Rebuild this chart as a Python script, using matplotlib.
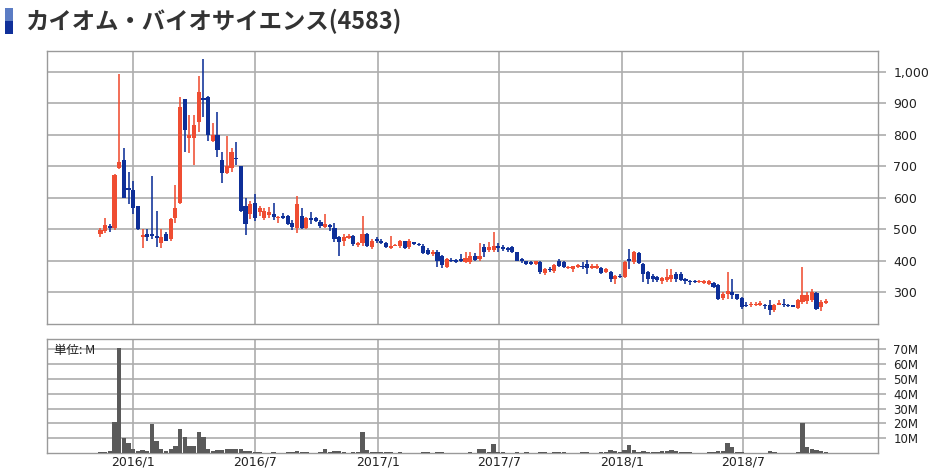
import matplotlib
matplotlib.use("Agg")
import matplotlib.pyplot as plt
import matplotlib.dates as mdates
from matplotlib.patches import Rectangle
import pandas as pd
import numpy as np

title = "カイオム・バイオサイエンス(4583)"
first_week = "2015-11-13"

opens = [485, 495, 510, 505, 695, 721, 630, 623, 573, 476, 486, 486, 479, 455, 484, 468, 535, 584, 913, 790,
         790, 842, 918, 921, 782, 800, 721, 680, 695, 726, 700, 575, 548, 582, 556, 535, 546, 549, 535, 542,
         542, 518, 505, 542, 502, 537, 535, 524, 507, 512, 505, 474, 463, 472, 479, 451, 455, 486, 444, 467,
         463, 455, 441, 447, 447, 461, 442, 458, 453, 447, 435, 421, 426, 416, 380, 403, 401, 405, 396, 396,
         416, 405, 442, 432, 432, 445, 442, 439, 442, 426, 405, 397, 395, 390, 395, 360, 374, 366, 397, 395,
         375, 372, 379, 384, 389, 376, 376, 376, 364, 365, 342, 352, 348, 405, 395, 424, 389, 363, 350, 347,
         334, 337, 342, 358, 358, 342, 335, 335, 331, 330, 325, 329, 323, 280, 295, 300, 292, 281, 260, 257,
         258, 260, 260, 258, 242, 260, 263, 260, 258, 249, 268, 270, 274, 298, 253, 266]
highs = [505, 537, 515, 676, 995, 758, 682, 652, 575, 500, 500, 668, 558, 500, 490, 537, 642, 921, 915, 863,
         863, 986, 1040, 925, 837, 872, 745, 795, 758, 777, 702, 598, 590, 611, 574, 568, 570, 584, 542, 550,
         545, 528, 605, 568, 540, 553, 540, 528, 549, 516, 518, 479, 484, 484, 482, 458, 542, 487, 468, 476,
         468, 460, 479, 453, 465, 463, 468, 460, 456, 453, 440, 432, 432, 418, 408, 407, 405, 421, 426, 426,
         424, 456, 453, 458, 491, 456, 450, 442, 447, 428, 409, 400, 398, 400, 400, 375, 379, 390, 405, 400,
         384, 384, 390, 395, 403, 389, 390, 379, 376, 368, 355, 356, 400, 437, 430, 426, 393, 368, 358, 350,
         347, 372, 374, 363, 363, 345, 337, 337, 337, 337, 337, 332, 326, 300, 363, 342, 295, 284, 268, 268,
         268, 270, 263, 274, 263, 274, 279, 263, 260, 279, 379, 300, 310, 300, 274, 279]
lows = [476, 489, 490, 497, 690, 598, 579, 549, 498, 440, 463, 470, 444, 441, 461, 463, 521, 579, 747, 742,
        705, 810, 858, 779, 777, 731, 647, 674, 682, 705, 556, 480, 532, 526, 542, 528, 537, 528, 521, 532,
        514, 497, 489, 500, 500, 516, 522, 505, 505, 495, 458, 416, 447, 468, 447, 442, 447, 442, 437, 455,
        452, 440, 437, 445, 440, 437, 437, 451, 445, 421, 418, 414, 380, 376, 377, 395, 393, 395, 393, 390,
        397, 400, 410, 426, 426, 428, 429, 428, 423, 397, 393, 385, 387, 385, 358, 355, 363, 361, 379, 376,
        372, 365, 376, 374, 358, 372, 372, 358, 360, 332, 326, 345, 345, 374, 390, 390, 332, 326, 332, 332,
        326, 332, 332, 332, 334, 326, 323, 328, 328, 325, 323, 313, 274, 274, 279, 279, 274, 245, 252, 253,
        255, 255, 247, 228, 237, 258, 253, 253, 251, 245, 263, 263, 268, 242, 239, 263]
closes = [497, 513, 503, 673, 714, 600, 626, 566, 500, 481, 476, 478, 471, 475, 463, 531, 568, 889, 816, 800,
          832, 937, 912, 800, 800, 752, 679, 700, 747, 722, 558, 515, 580, 537, 566, 558, 553, 538, 539, 537,
          516, 506, 579, 505, 537, 529, 527, 511, 516, 506, 468, 458, 474, 479, 452, 455, 486, 447, 463, 463,
          456, 443, 447, 451, 461, 440, 461, 454, 448, 423, 422, 426, 400, 385, 405, 397, 395, 400, 407, 416,
          403, 414, 428, 442, 447, 440, 437, 432, 426, 400, 397, 390, 390, 397, 363, 372, 369, 386, 384, 379,
          380, 382, 386, 379, 375, 382, 384, 361, 372, 340, 351, 348, 395, 400, 426, 393, 358, 342, 340, 337,
          344, 347, 353, 340, 337, 334, 332, 331, 335, 335, 334, 316, 279, 295, 302, 290, 277, 253, 255, 262,
          263, 266, 254, 243, 258, 266, 258, 256, 253, 274, 289, 290, 300, 247, 268, 272]
volumes_m = [0.5, 0.8, 1.2, 21, 71, 10, 6.5, 2.5, 1.2, 2.0, 1.3, 19.5, 8, 2.5, 1.5, 2.5, 5, 16.5, 11, 4.5,
             4.5, 14, 10.5, 3, 1.5, 2.0, 2.0, 2.9, 2.5, 2.5, 2.5, 1.1, 1.1, 0.8, 0.4, 0.3, 0.3, 0.4, 0.3, 0.3,
             0.4, 0.5, 1.2, 0.5, 0.4, 0.3, 0.3, 0.4, 2.5, 0.6, 1.2, 1.2, 0.5, 0.3, 0.4, 0.5, 14, 2.0, 1.0, 0.6,
             1.0, 0.5, 1.0, 0.3, 0.4, 0.3, 0.3, 0.3, 0.2, 1.0, 0.5, 0.3, 0.4, 0.4, 0.3, 0.2, 0.2, 0.3, 0.3, 0.4,
             0.3, 2.5, 2.5, 0.8, 6.0, 1.0, 0.5, 0.3, 0.3, 0.4, 0.3, 0.9, 0.3, 0.3, 0.9, 0.4, 0.3, 0.4, 0.9, 0.4,
             0.3, 0.3, 0.3, 0.4, 0.9, 0.3, 0.3, 0.4, 1.0, 2.0, 1.5, 1.0, 2.0, 5.5, 2.0, 1.0, 1.2, 1.0, 1.0, 1.0,
             1.2, 1.5, 1.8, 1.5, 1.0, 0.5, 0.4, 0.3, 0.3, 0.3, 0.5, 1.0, 1.2, 1.5, 6.5, 4.0, 1.0, 0.8, 0.3, 0.3,
             0.3, 0.3, 0.3, 1.3, 0.4, 0.3, 0.3, 0.3, 0.3, 0.5, 20, 4, 2.5, 1.8, 1.2, 0.6]

x_ticks = ["2016-01-01", "2016-07-01", "2017-01-01", "2017-07-01", "2018-01-01", "2018-07-01"]
x_tick_labels = ["2016/1", "2016/7", "2017/1", "2017/7", "2018/1", "2018/7"]
price_ticks = [300, 400, 500, 600, 700, 800, 900, 1000]
vol_ticks = [10, 20, 30, 40, 50, 60, 70]

RED = "#ef4d32"
BLUE = "#0e2f98"
GRID = "#adadad"

dates = pd.date_range(first_week, periods=len(closes), freq="7D")
xd = mdates.date2num(dates.to_pydatetime())
o = np.array(opens, float); h = np.array(highs, float)
l = np.array(lows, float); c = np.array(closes, float)
up = c >= o
colors = [RED if u else BLUE for u in up]

fig = plt.figure(figsize=(9.29, 4.73), dpi=100)
W, H = 929, 473
ax = fig.add_axes([47 / W, 1 - 324 / H, (878 - 47) / W, (324 - 51) / H])
axv = fig.add_axes([47 / W, 1 - 453 / H, (878 - 47) / W, (453 - 339) / H], sharex=ax)

xt = mdates.date2num(pd.to_datetime(x_ticks).to_pydatetime())
xmin = mdates.date2num(pd.Timestamp("2015-08-25").to_pydatetime())
xmax = mdates.date2num(pd.Timestamp("2019-01-19").to_pydatetime())

# candles
ax.vlines(xd, l, h, colors=colors, linewidth=1.15, zorder=3)
body_bottom = np.minimum(o, c)
body_h = np.maximum(np.abs(c - o), 3.5)
ax.bar(xd, body_h, bottom=body_bottom, width=6.2, color=colors, linewidth=0, zorder=4)

# volume
axv.bar(xd, volumes_m, width=6.5, color="#5a5a5a", linewidth=0, zorder=3)

for a in (ax, axv):
    a.set_xlim(xmin, xmax)
    a.set_xticks(xt)
    a.grid(True, color=GRID, linewidth=1.2, zorder=0)
    a.set_axisbelow(True)
    for s in a.spines.values():
        s.set_color("#9a9a9a")
        s.set_linewidth(1.0)
    a.yaxis.tick_right()
    a.tick_params(axis="y", length=6, color=GRID, width=1.2, labelsize=9, labelcolor="#222222", pad=5)
    a.tick_params(axis="x", length=0)

ax.set_ylim(198, 1067)
ax.set_yticks(price_ticks)
ax.set_yticklabels([f"{v:,}" for v in price_ticks])
ax.tick_params(axis="x", labelbottom=False)

axv.set_ylim(0, 77)
axv.set_yticks(vol_ticks)
axv.set_yticklabels([f"{v}M" for v in vol_ticks], fontsize=8.5)
axv.set_xticklabels(x_tick_labels, fontsize=9, color="#222222")
axv.tick_params(axis="x", pad=2)
axv.text(0.008, 0.955, "単位: M", transform=axv.transAxes, ha="left", va="top",
         fontsize=9, color="#222222", family=["Noto Sans CJK JP", "DejaVu Sans"], zorder=5)

# title with marker
fig.patches.append(Rectangle((5 / W, 1 - 21 / H), 8 / W, 13 / H, transform=fig.transFigure,
                             facecolor="#5b7cc4", edgecolor="none"))
fig.patches.append(Rectangle((5 / W, 1 - 34 / H), 8 / W, 13 / H, transform=fig.transFigure,
                             facecolor="#10309a", edgecolor="none"))
fig.text(25 / W, 1 - 21 / H, title, ha="left", va="center", fontsize=16.8, fontweight="bold",
         color="#333333", family=["Noto Sans CJK JP", "DejaVu Sans"])

fig.savefig("out.png", dpi=100)
